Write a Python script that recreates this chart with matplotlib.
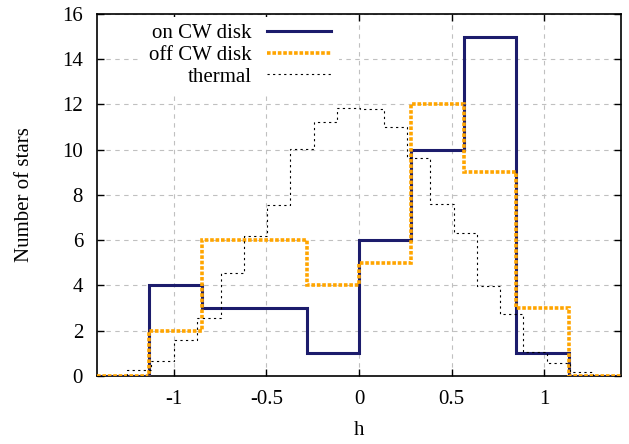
import numpy as np
import matplotlib
matplotlib.use('Agg')
import matplotlib.pyplot as plt

plt.rcParams['font.family'] = ['Liberation Serif', 'DejaVu Serif']
plt.rcParams['font.size'] = 15

# histogram bins (10 bins over +-sqrt(2))
edges = np.linspace(-np.sqrt(2), np.sqrt(2), 11)
on_disk = [0, 4, 3, 3, 1, 6, 10, 15, 1, 0]
off_disk = [0, 2, 6, 6, 4, 5, 12, 9, 3, 0]

# thermal distribution, finer bins
th_edges = np.linspace(-1.25, 1.265, 21)
thermal = [0.25, 0.68, 1.6, 2.57, 4.54, 6.19, 7.57, 10.03, 11.23, 11.84,
           11.8, 10.99, 9.63, 7.6, 6.34, 3.98, 2.73, 1.08, 0.59, 0.19]

fig = plt.figure(figsize=(6.29, 4.44), dpi=100)
ax = fig.add_axes([0.1542, 0.1532, 0.8331, 0.8153])

ax.stairs(on_disk, edges, color='#1c1c6c', lw=2.2, label='on CW disk', zorder=3)
ax.stairs(off_disk, edges, color='#ffa500', lw=2.6, ls=(0, (1, 0.5)),
          label='off CW disk', zorder=4)
ax.stairs(thermal, th_edges, color='black', lw=0.8, ls=(0, (2, 3)),
          label='thermal', zorder=5)

ax.set_xlim(-np.sqrt(2), np.sqrt(2))
ax.set_ylim(0, 16)
ax.set_xticks([-1, -0.5, 0, 0.5, 1])
ax.set_xticklabels(['-1', '-0.5', '0', '0.5', '1'])
ax.set_yticks(range(0, 17, 2))
ax.tick_params(direction='in', top=True, right=True, length=5, width=1, pad=10)
ax.grid(True, color='#c0c0c0', ls=(0, (4, 4)), lw=0.8)
ax.set_axisbelow(True)
for s in ax.spines.values():
    s.set_linewidth(1.2)
    s.set_color('black')

ax.set_xlabel('h', labelpad=9)
ax.set_ylabel('Number of stars', labelpad=20)

leg = ax.legend(loc='upper right', bbox_to_anchor=(0.461, 0.993), markerfirst=False,
                frameon=True, fancybox=False, framealpha=1, edgecolor='none',
                handlelength=3.07, labelspacing=0.1, borderpad=0.35,
                borderaxespad=0.0, handletextpad=0.77)
for t in leg.get_texts():
    t.set_ha('right')
leg._legend_box.align = 'right'

fig.savefig('out.png', dpi=100)
